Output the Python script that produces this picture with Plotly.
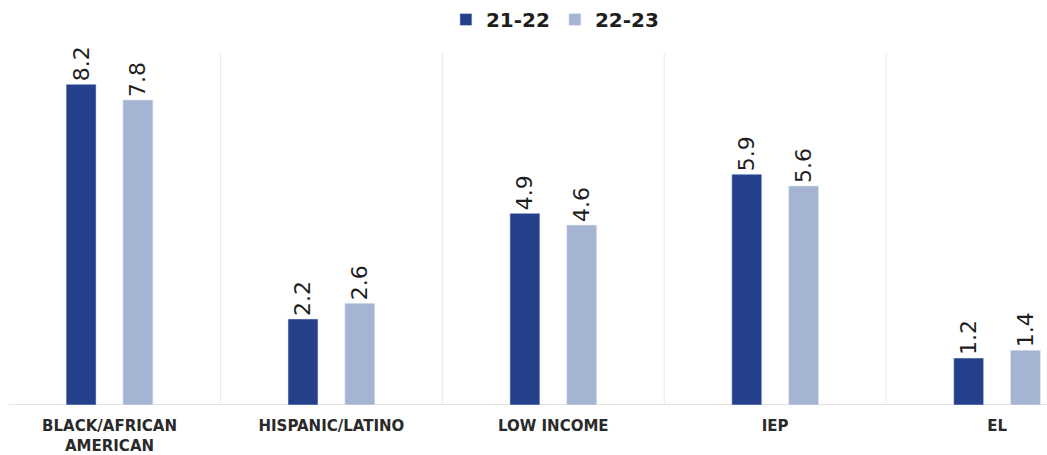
import plotly.graph_objects as go

categories = ["BLACK/AFRICAN<br>AMERICAN", "HISPANIC/LATINO", "LOW INCOME", "IEP", "EL"]
series_names = ["21-22", "22-23"]
values_2122 = [8.2, 2.2, 4.9, 5.9, 1.2]
values_2223 = [7.8, 2.6, 4.6, 5.6, 1.4]

dark = "#25408A"
light = "#A6B4D3"
pos = list(range(len(categories)))
bw = 0.135
half_gap = 0.128

fig = go.Figure()
for name, vals, col, off in [(series_names[0], values_2122, dark, -half_gap - bw / 2),
                             (series_names[1], values_2223, light, half_gap - bw / 2)]:
    fig.add_trace(go.Bar(
        x=pos, y=vals, name=name, marker_color=col, width=bw, offset=off,
        texttemplate="%{y:.1f}", textposition="outside", textangle=-90,
        constraintext="none",
        textfont=dict(family="DejaVu Sans", size=22, color="#1e1e1e", weight=500),
        cliponaxis=False,
    ))

for b in [0.5, 1.5, 2.5, 3.5]:
    fig.add_shape(type="line", xref="x", yref="paper", x0=b, x1=b, y0=0, y1=1,
                  line=dict(color="#ebebeb", width=1), layer="below")
fig.add_shape(type="line", xref="x", yref="y", x0=-0.453, x1=4.23, y0=0, y1=0,
              line=dict(color="#e3e3e3", width=2), layer="below")

fig.update_layout(
    width=1047, height=455,
    margin=dict(l=0, r=0, t=53, b=48),
    plot_bgcolor="white", paper_bgcolor="white",
    barmode="overlay",
    showlegend=True,
    legend=dict(orientation="h", x=0.53, xanchor="center", y=1.0, yref="container",
                yanchor="top",
                font=dict(family="DejaVu Sans", size=20, color="#1e1e1e", weight="bold"),
                itemwidth=30, traceorder="normal"),
    xaxis=dict(range=[-0.4935, 4.225], tickvals=pos, ticktext=categories,
               showgrid=False, zeroline=False, showline=False, ticks="",
               ticklabelstandoff=10,
               tickfont=dict(family="DejaVu Sans", size=15, color="#2a2a2a", weight="bold")),
    yaxis=dict(range=[0, 9], showgrid=False, zeroline=False, showticklabels=False,
               showline=False, ticks=""),
)

fig.write_html("out.html")
